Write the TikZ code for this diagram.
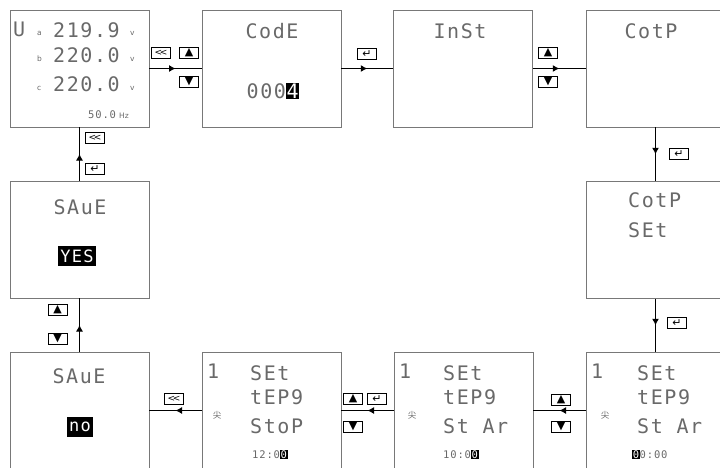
\documentclass[tikz,border=0pt]{standalone}
\usepackage{fontspec}
\newfontfamily\lcdfont{DejaVu Sans Mono}[LetterSpace=8]
\newfontfamily\symfont{DejaVu Sans}
\newfontfamily\cjk{Noto Sans CJK SC}
\usetikzlibrary{arrows.meta,decorations.markings}
\definecolor{lcdgray}{RGB}{105,105,105}
\definecolor{framegray}{RGB}{120,120,120}
\newcommand\hlchar[1]{{\setlength{\fboxsep}{0.6pt}\colorbox{black}{\textcolor{white}{#1}}}}
\newcommand\backkey{{\fontsize{9}{9}\selectfont<\kern-2.5pt<}}

\tikzset{
 screen/.style={draw=framegray,line width=0.9pt,minimum width=139pt,minimum height=117pt,inner sep=0pt},
 big/.style={font=\lcdfont\fontsize{20}{20}\selectfont,text=lcdgray,inner sep=0pt},
 small/.style={font=\lcdfont\fontsize{10.5}{10.5}\selectfont,text=lcdgray,inner sep=0pt},
 tiny/.style={font=\symfont\fontsize{7.5}{7.5}\selectfont,text=lcdgray,inner sep=0pt},
 mark cjk/.style={text=lcdgray,inner sep=0pt,font=\cjk\fontsize{8.5}{8.5}\selectfont},
 inv/.style={fill=black,text=white,font=\lcdfont\fontsize{17}{17}\selectfont,minimum height=20pt,inner sep=2.5pt},
 key/.style={draw=black,line width=0.8pt,minimum width=19pt,minimum height=11pt,inner sep=0pt,font=\symfont\fontsize{11}{11}\selectfont},
 flow/.style={line width=1pt,postaction={decorate},
  decoration={markings,mark=at position 0.5 with {\arrow{Latex[length=6.5pt,width=7pt]}}}}
}

\begin{document}
\begin{tikzpicture}[x=1pt,y=-1pt]
 \useasboundingbox (0,0) rectangle (720,467);
 % screens
 \path (79.5,68.5)  node[screen] (main) {}
       (271.5,68.5) node[screen] (code) {}
       (463,68.5)   node[screen] (inst) {}
       (655.5,68.5) node[screen] (cotp) {}
       (655.5,240)  node[screen] (cotpset) {}
       (79.5,239.5) node[screen] (saveyes) {}
       (79.5,410.5) node[screen] (saveno) {}
       (271.5,410.5) node[screen] (stop) {}
       (463.5,410.5) node[screen] (stara) {}
       (655.5,410.5) node[screen] (starb) {};

 % measuring screen
 \path (13,36) node[big,anchor=base west] (u) {U}
       (37,35) node[tiny,anchor=base west] (ua) {a}
       (53,37) node[big,anchor=base west] (va) {219.9}
       (130,35) node[tiny,anchor=base west] (unita) {v}
       (37,61) node[tiny,anchor=base west] (ub) {b}
       (53,62) node[big,anchor=base west] (vb) {220.0}
       (130,61) node[tiny,anchor=base west] (unitb) {v}
       (37,90) node[tiny,anchor=base west] (uc) {c}
       (53,91) node[big,anchor=base west] (vc) {220.0}
       (130,90) node[tiny,anchor=base west] (unitc) {v}
       (88,118) node[small,anchor=base west] (freq) {50.0}
       (119,118) node[tiny,anchor=base west] (hz) {Hz};

 % menu screens
 \path (272,38)  node[big,anchor=base] (codet) {CodE}
       (273,98)  node[big,anchor=base] (codev) {000\hlchar{4}}
       (460,38)  node[big,anchor=base] (instt) {InSt}
       (651,38)  node[big,anchor=base] (cotpt) {CotP}
       (628,207) node[big,anchor=base west] (cotpa) {CotP}
       (628,237) node[big,anchor=base west] (cotpb) {SEt}
       (80,214)  node[big,anchor=base] (yest) {SAuE}
       (77,256)  node[inv] (yesv) {YES}
       (79,383)  node[big,anchor=base] (not) {SAuE}
       (80,427)  node[inv] (nov) {no};

 % time screens
 \path (207,378) node[big,anchor=base west] (stopn) {1}
       (250,380) node[big,anchor=base west] (stopa) {SEt}
       (250,404) node[big,anchor=base west] (stopb) {tEP9}
       (250,433) node[big,anchor=base west] (stopc) {StoP}
       (252,458) node[small,anchor=base west] (stopt) {12:0\hlchar{0}}
       (217,415) node[mark cjk] (stopj) {尖}
       (399,378) node[big,anchor=base west] (staran) {1}
       (443,380) node[big,anchor=base west] (stara1) {SEt}
       (443,404) node[big,anchor=base west] (stara2) {tEP9}
       (443,433) node[big,anchor=base west] (stara3) {St Ar}
       (443,458) node[small,anchor=base west] (starat) {10:0\hlchar{0}}
       (412,415) node[mark cjk] (staraj) {尖}
       (591,378) node[big,anchor=base west] (starbn) {1}
       (637,380) node[big,anchor=base west] (starb1) {SEt}
       (637,404) node[big,anchor=base west] (starb2) {tEP9}
       (637,433) node[big,anchor=base west] (starb3) {St Ar}
       (632,458) node[small,anchor=base west] (starbt) {\hlchar{0}0:00}
       (605,415) node[mark cjk] (starbj) {尖};

 % keys
 \path (161,53)  node[key] (k1) {\backkey}
       (189,53)  node[key] (k2) {▲}
       (189,82)  node[key] (k3) {▼}
       (367,54)  node[key] (k4) {↵}
       (548,53)  node[key] (k5) {▲}
       (548,82)  node[key] (k6) {▼}
       (679,154) node[key] (k7) {↵}
       (677,323) node[key] (k8) {↵}
       (561,400) node[key] (k9) {▲}
       (561,427) node[key] (k10) {▼}
       (353,399) node[key] (k11) {▲}
       (377,399) node[key] (k12) {↵}
       (353,427) node[key] (k13) {▼}
       (174,399) node[key] (k14) {\backkey}
       (57.5,310) node[key] (k15) {▲}
       (57.5,339) node[key] (k16) {▼}
       (95,137.5) node[key] (k17) {\backkey}
       (95,169) node[key] (k18) {↵};

 % flow
 \draw[flow] (main) -- (code);
 \draw[flow] (code) -- (inst);
 \draw[flow] (inst) -- (cotp);
 \draw[flow] (cotp) -- (cotpset);
 \draw[flow] (cotpset) -- (starb);
 \draw[flow] (starb) -- (stara);
 \draw[flow] (stara) -- (stop);
 \draw[flow] (stop) -- (saveno);
 \draw[flow] (saveno) -- (saveyes);
 \draw[flow] (saveyes) -- (main);
\end{tikzpicture}
\end{document}
